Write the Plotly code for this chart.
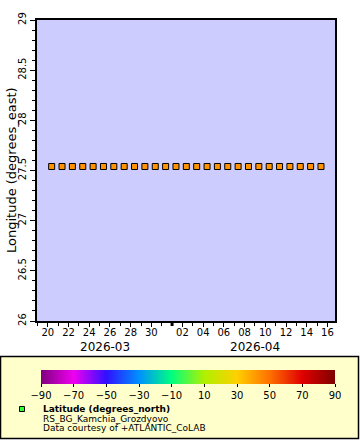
import plotly.graph_objects as go

# ---- data ----
times = [
    "2026-03-20 09:00", "2026-03-21 09:00", "2026-03-22 09:00", "2026-03-23 09:00",
    "2026-03-24 09:00", "2026-03-25 09:00", "2026-03-26 09:00", "2026-03-27 09:00",
    "2026-03-28 09:00", "2026-03-29 09:00", "2026-03-30 09:00", "2026-03-31 09:00",
    "2026-04-01 09:00", "2026-04-02 09:00", "2026-04-03 09:00", "2026-04-04 09:00",
    "2026-04-05 09:00", "2026-04-06 09:00", "2026-04-07 09:00", "2026-04-08 09:00",
    "2026-04-09 09:00", "2026-04-10 09:00", "2026-04-11 09:00", "2026-04-12 09:00",
    "2026-04-13 09:00", "2026-04-14 09:00", "2026-04-15 09:00",
]
longitude = [
    27.54, 27.54, 27.54, 27.54, 27.54, 27.54, 27.54, 27.54, 27.54,
    27.54, 27.54, 27.54, 27.54, 27.54, 27.54, 27.54, 27.54, 27.54,
    27.54, 27.54, 27.54, 27.54, 27.54, 27.54, 27.54, 27.54, 27.54,
]
latitude = [
    42.6, 42.6, 42.6, 42.6, 42.6, 42.6, 42.6, 42.6, 42.6,
    42.6, 42.6, 42.6, 42.6, 42.6, 42.6, 42.6, 42.6, 42.6,
    42.6, 42.6, 42.6, 42.6, 42.6, 42.6, 42.6, 42.6, 42.6,
]

x_tickvals = ["2026-03-20", "2026-03-22", "2026-03-24", "2026-03-26", "2026-03-28",
              "2026-03-30", "2026-04-02", "2026-04-04", "2026-04-06", "2026-04-08",
              "2026-04-10", "2026-04-12", "2026-04-14", "2026-04-16"]
x_ticktext = ["20", "22", "24", "26", "28", "30", "02", "04", "06", "08",
              "10", "12", "14", "16"]
month_labels = ["2026-03", "2026-04"]
month_label_pos = ["2026-03-25 12:00", "2026-04-09 00:00"]
month_boundary = "2026-04-01"

y_tickvals = [26, 26.5, 27, 27.5, 28, 28.5, 29]
cbar_ticks = [-90, -70, -50, -30, -10, 10, 30, 50, 70, 90]

colorscale = [
    [0.0, "#7F007F"], [0.1111, "#F000F0"], [0.2222, "#3010FF"],
    [0.3333, "#0090FF"], [0.4444, "#00FF80"], [0.5556, "#B0F000"],
    [0.6667, "#FFD000"], [0.7778, "#FF7000"], [0.8889, "#E00000"],
    [1.0, "#7F0000"],
]

# ---- geometry helpers (pixels -> paper) ----
W, H = 360, 440
L, R, T, B = 37, 25, 20, 119
PW, PH = W - L - R, H - T - B


def px(xp):
    return (xp - L) / PW


def py(yp):
    return (H - B - yp) / PH


FONT = "DejaVu Sans, Verdana, sans-serif"

fig = go.Figure()
fig.add_trace(go.Scatter(
    x=times, y=longitude, mode="markers",
    marker=dict(
        symbol="square", size=6, color=latitude,
        colorscale=colorscale, cmin=-90, cmax=90,
        line=dict(color="black", width=1),
        showscale=True,
        colorbar=dict(
            orientation="h", x=px(188), xanchor="center",
            y=py(370), yanchor="top", len=294, lenmode="pixels",
            thickness=14, thicknessmode="pixels", outlinewidth=0,
            xpad=0, ypad=0, ticks="outside", ticklen=3, tickcolor="black",
            tickvals=cbar_ticks, tickfont=dict(family=FONT, size=10, color="black"),
        ),
    ),
    showlegend=False,
))

fig.update_layout(
    width=W, height=H,
    margin=dict(l=L, r=R, t=T, b=B, autoexpand=False),
    paper_bgcolor="white", plot_bgcolor="#CCCCFF",
    font=dict(family=FONT, color="black"),
    xaxis=dict(
        type="date", range=["2026-03-18 23:00", "2026-04-16 17:30"],
        automargin=False,
        tickvals=x_tickvals, ticktext=x_ticktext,
        ticks="outside", ticklen=4, tickcolor="black", tickwidth=1,
        ticklabelstandoff=-3,
        minor=dict(dtick=86400000, tick0="2026-03-20", ticks="outside",
                   ticklen=3, tickcolor="black"),
        showline=True, linecolor="black", linewidth=1.5, mirror=True,
        showgrid=False, zeroline=False,
        tickfont=dict(family=FONT, size=10, color="black"),
    ),
    yaxis=dict(
        range=[26, 29], tickvals=y_tickvals, automargin=False,
        ticks="outside", ticklen=5, tickcolor="black",
        minor=dict(dtick=0.1, ticks="outside", ticklen=3, tickcolor="black"),
        tickangle=-90,
        showline=True, linecolor="black", linewidth=1.5, mirror=True,
        showgrid=False, zeroline=False,
        tickfont=dict(family=FONT, size=10, color="black"),
    ),
)

# y-axis title (right edge of the rotated box placed at a fixed pixel column)
fig.add_annotation(x=px(20), xref="paper", y=py(170.5), yref="paper",
                   text="Longitude (degrees_east)", textangle=-90, showarrow=False,
                   xanchor="right", yanchor="middle", borderpad=0,
                   font=dict(family=FONT, size=13, color="black"))

# month boundary tick
fig.add_shape(type="line", xref="x", yref="paper",
              x0=month_boundary, x1=month_boundary, y0=0, y1=-5 / PH,
              line=dict(color="black", width=3))

# month labels
for lab, pos in zip(month_labels, month_label_pos):
    fig.add_annotation(x=pos, xref="x", y=py(347), yref="paper",
                       text=lab, showarrow=False, xanchor="center", yanchor="middle",
                       font=dict(family=FONT, size=12, color="black"))

# legend box
fig.add_shape(type="rect", xref="paper", yref="paper",
              x0=px(0.5), x1=px(358.5), y0=py(356.5), y1=py(438.5),
              fillcolor="#FFFFCC", line=dict(color="black", width=1.5), layer="below")

# legend marker
fig.add_shape(type="rect", xref="paper", yref="paper",
              x0=px(19.5), x1=px(24.5), y0=py(406.5), y1=py(411.5),
              fillcolor="#33FF33", line=dict(color="black", width=1))

legend_lines = [
    ("<b>Latitude (degrees_north)</b>", 409, 9),
    ("RS_BG_Kamchia_Grozdyovo", 418.5, 9),
    ("Data courtesy of +ATLANTIC_CoLAB", 428, 9),
]
for txt, yy, fs in legend_lines:
    fig.add_annotation(x=px(42), xref="paper", y=py(yy), yref="paper",
                       text=txt, showarrow=False, xanchor="left", yanchor="middle",
                       borderpad=0,
                       font=dict(family=FONT, size=fs, color="black"))

fig.write_html("out.html", config={"displayModeBar": False},
               post_script="document.body.style.margin='0px';")
